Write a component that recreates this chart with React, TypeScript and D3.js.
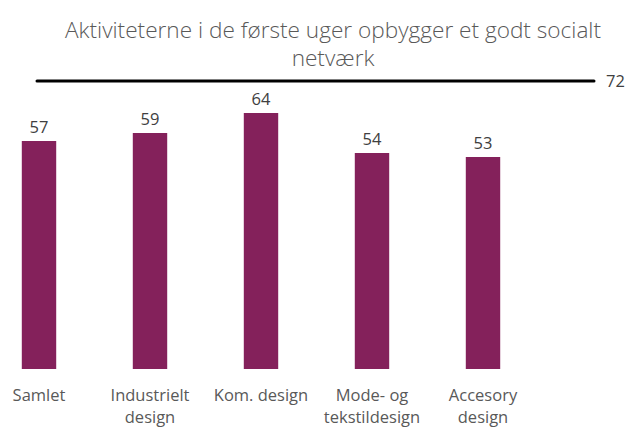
import React from "react";
import * as d3 from "d3";

const categories = [["Samlet"], ["Industrielt", "design"], ["Kom. design"], ["Mode- og", "tekstildesign"], ["Accesory", "design"]];
const values = [57, 59, 64, 54, 53];
const referenceValue = 72;
const titleLines = ["Aktiviteterne i de første uger opbygger et godt socialt", "netværk"];

const W = 628;
const H = 427;

export default function App() {
  const slots = [0, 1, 2, 3, 4, 5].map(String);
  const x = d3.scaleBand<string>().domain(slots).range([-16.5, 649.5]).paddingInner(0.69).paddingOuter(0.345);
  const y = d3.scaleLinear().domain([0, 72]).range([369, 81]);
  const center = (i: number) => (x(String(i)) as number) + x.bandwidth() / 2;
  const font = "'Open Sans', sans-serif";
  return (
    <svg width={W} height={H} style={{ position: "absolute", left: 0, top: 0 }} fontFamily={font}>
      <rect width={W} height={H} fill="#fff" />
      {titleLines.map((t, i) => (
        <text key={i} x={333} y={38 + i * 28} textAnchor="middle" fontSize={22.6} fontWeight={300} fill="#595959">{t}</text>
      ))}
      {values.map((v, i) => (
        <g key={i}>
          <rect x={x(String(i))} y={y(v)} width={x.bandwidth()} height={y(0) - y(v)} fill="#84215B" />
          <text x={center(i)} y={y(v) - 8} textAnchor="middle" fontSize={16.5} fill="#404040">{v}</text>
        </g>
      ))}
      <line x1={center(0) - 2} x2={center(5)} y1={y(referenceValue)} y2={y(referenceValue)} stroke="#000" strokeWidth={3} strokeLinecap="round" />
      <text x={center(5) + 12} y={y(referenceValue) + 6} fontSize={16.5} fill="#404040">{referenceValue}</text>
      {categories.map((lines, i) => (
        <text key={i} textAnchor="middle" fontSize={16.5} fill="#595959">
          {lines.map((l, j) => (
            <tspan key={j} x={center(i)} y={401 + j * 22}>{l}</tspan>
          ))}
        </text>
      ))}
    </svg>
  );
}
